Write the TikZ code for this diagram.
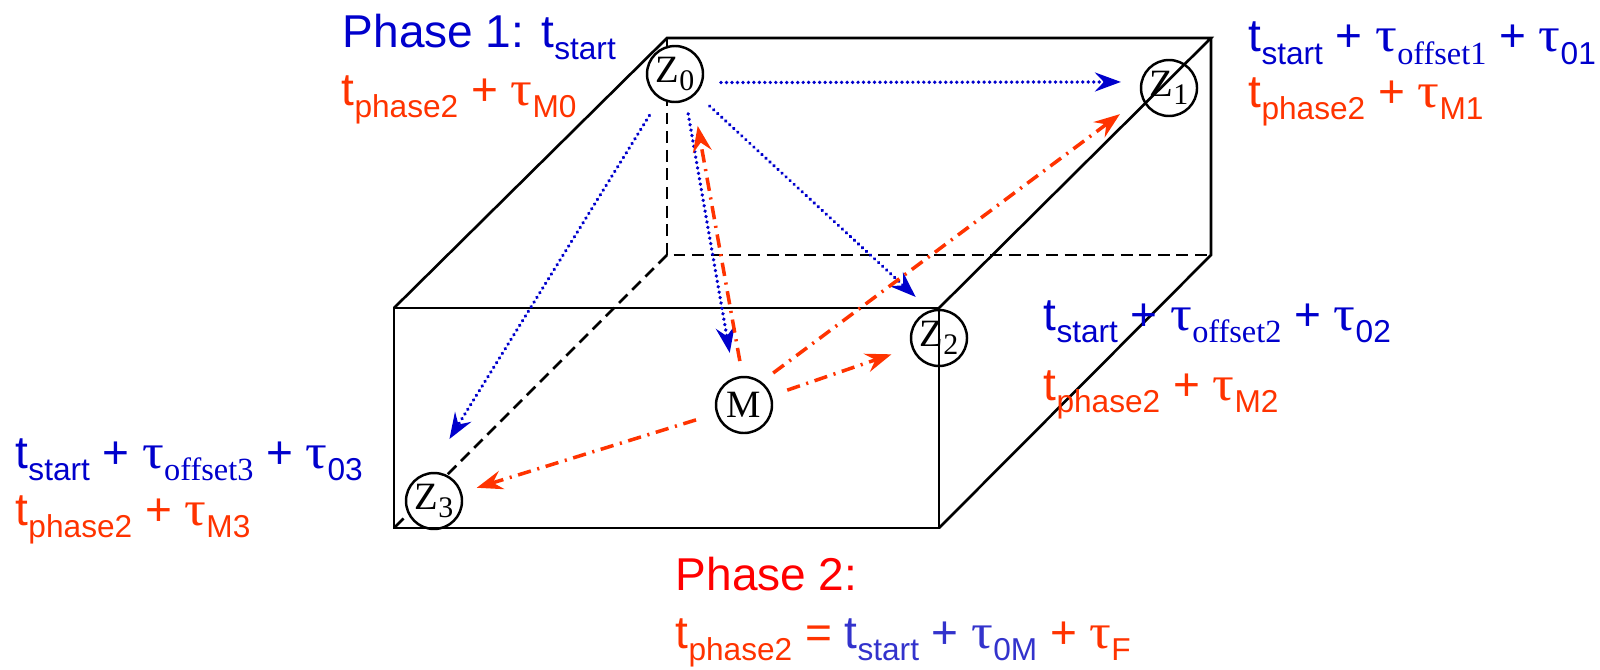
\documentclass[tikz,border=0pt]{standalone}
\usepackage{fontspec}
\usepackage{graphicx}
\setmainfont{Liberation Sans}
\newfontfamily\serifface{Liberation Serif}
\usetikzlibrary{arrows.meta}

\definecolor{phblue}{RGB}{0,0,204}
\definecolor{phorange}{RGB}{255,51,0}
\definecolor{phred}{RGB}{255,0,0}
\definecolor{phlblue}{RGB}{51,51,204}

% subscripts: sans, serif, and the one inside the circles
\newcommand{\sbs}[1]{\raisebox{-0.28em}{\fontsize{9}{10}\selectfont #1}}
\newcommand{\sbr}[1]{\raisebox{-0.28em}{\serifface\fontsize{9.2}{10}\selectfont #1}}
\newcommand{\zs}[1]{\raisebox{-0.22em}{\fontsize{8.5}{9}\selectfont #1}}
\newcommand{\tu}{{\serifface\fontsize{14}{14}\selectfont\scalebox{1.1}[1]{τ}}}

\begin{document}
\begin{tikzpicture}[
  zone/.style={circle,draw,line width=0.7pt,fill=white,minimum size=0.56cm,inner sep=0pt,font=\serifface\fontsize{11}{11}\selectfont},
  lbl/.style={anchor=base west,inner sep=0pt,font=\fontsize{13.1}{15}\selectfont},
  boxline/.style={line width=0.75pt},
  boxhid/.style={line width=0.75pt,dash pattern=on 3.4pt off 1.9pt},
  sigone/.style={phblue,line width=1.05pt,line cap=round,dash pattern=on 0.01pt off 1.55pt,-{Stealth[length=0.26cm,width=0.19cm,inset=0.09cm]}},
  sigtwo/.style={phorange,line width=1pt,dash pattern=on 3.8pt off 1.9pt on 0.6pt off 1.9pt,-{Stealth[length=0.26cm,width=0.19cm,inset=0.09cm]}}]
\useasboundingbox (0,0) rectangle (16,6.69);
% box corners
\coordinate (ftl) at (3.94,3.61);
\coordinate (ftr) at (9.39,3.61);
\coordinate (fbl) at (3.94,1.41);
\coordinate (fbr) at (9.39,1.41);
\coordinate (btl) at (6.67,6.31);
\coordinate (btr) at (12.11,6.31);
\coordinate (bbl) at (6.67,4.14);
\coordinate (bbr) at (12.11,4.14);
% hidden edges
\draw[boxhid] (btl) -- (bbl) -- (bbr);
\draw[boxhid] (bbl) -- (fbl);
% stations
\node[zone] (Z0) at (6.75,5.95) {Z\zs{0}};
\node[zone] (Z1) at (11.69,5.81) {Z\zs{1}};
\node[zone] (Z2) at (9.39,3.31) {Z\zs{2}};
\node[zone] (Z3) at (4.34,1.68) {Z\zs{3}};
\node[zone] (M) at (7.44,2.64) {M};
% visible edges
\draw[boxline] (ftl) rectangle (fbr);
\draw[boxline] (ftl) -- (btl) -- (btr) -- (ftr);
\draw[boxline] (btr) -- (bbr) -- (fbr);
% phase 1
\draw[sigone,shorten <=0.18cm,shorten >=0.195cm] (Z0.-17) -- (Z1.168);
\draw[sigone,shorten <=0.18cm,shorten >=0.195cm] (Z0) -- (Z2.108);
\draw[sigone,shorten <=0.13cm,shorten >=0.25cm] (Z0.-68) -- (M.110);
\draw[sigone,shorten <=0.195cm,shorten >=0.39cm] (Z0) -- (Z3.100);
% phase 2
\draw[sigtwo,shorten <=0.15cm,shorten >=0.29cm] (M.93) -- (Z0.-53);
\draw[sigtwo,shorten <=0.145cm,shorten >=0.27cm] (M.53) -- (Z1.200);
\draw[sigtwo,shorten <=0.165cm,shorten >=0.21cm] (M) -- (Z2);
\draw[sigtwo,shorten <=0.21cm,shorten >=0.155cm] (M) -- (Z3);
% times
\node[lbl,phblue] (p1) at (3.42,6.22) {Phase 1: t\sbs{start}};
\node[lbl,phorange] (m0) at (3.41,5.64) {t\sbs{phase2} + \tu\sbs{M0}};
\node[lbl,phblue] (o1) at (12.48,6.17) {t\sbs{start} + \tu\sbr{offset1} + \tu\sbs{01}};
\node[lbl,phorange] (m1) at (12.48,5.62) {t\sbs{phase2} + \tu\sbs{M1}};
\node[lbl,phblue] (o2) at (10.43,3.39) {t\sbs{start} + \tu\sbr{offset2} + \tu\sbs{02}};
\node[lbl,phorange] (m2) at (10.43,2.69) {t\sbs{phase2} + \tu\sbs{M2}};
\node[lbl,phblue] (o3) at (0.15,2.01) {t\sbs{start} + \tu\sbr{offset3} + \tu\sbs{03}};
\node[lbl,phorange] (m3) at (0.15,1.44) {t\sbs{phase2} + \tu\sbs{M3}};
\node[lbl,phred] (p2) at (6.75,0.79) {Phase 2:};
\node[lbl,phorange] (tp) at (6.75,0.21) {t\sbs{phase2} = {\color{phlblue}t\sbs{start} + \tu\sbs{0M}} + \tu\sbs{F}};
\end{tikzpicture}
\end{document}
